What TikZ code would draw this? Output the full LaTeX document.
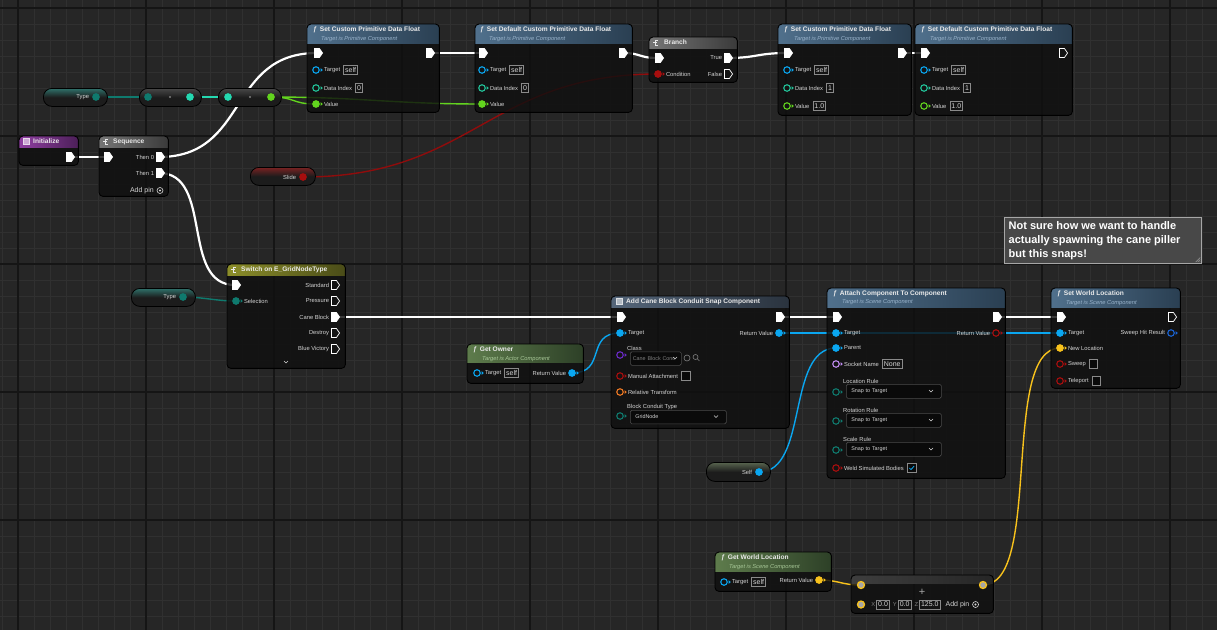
\documentclass[tikz,border=0pt]{standalone}
\usepackage{fontspec}
\setmainfont{Liberation Sans}
\usepackage{xcolor}
\definecolor{bpbg}{HTML}{262626}
\definecolor{gridminor}{HTML}{303030}
\definecolor{gridmajor}{HTML}{151515}
\definecolor{nodebody}{HTML}{0F0F0F}
\definecolor{pinhole}{HTML}{131313}
\definecolor{funcblue}{HTML}{50708C}
\definecolor{funcbluedark}{HTML}{2A3F52}
\definecolor{puregreen}{HTML}{5E7C4C}
\definecolor{puregreendark}{HTML}{2D4027}
\definecolor{flowgray}{HTML}{767676}
\definecolor{flowgraydark}{HTML}{3A3A3A}
\definecolor{switcholive}{HTML}{8C8E2A}
\definecolor{switcholivedark}{HTML}{4A4C18}
\definecolor{eventpurple}{HTML}{9040A2}
\definecolor{eventpurpledark}{HTML}{4C1F58}
\definecolor{compgray}{HTML}{55667A}
\definecolor{compgraydark}{HTML}{2A333E}
\definecolor{addgray}{HTML}{3E3E3E}
\definecolor{addgraydark}{HTML}{262626}
\definecolor{pillteal}{HTML}{2F716A}
\definecolor{pillred}{HTML}{7A2222}
\definecolor{pillself}{HTML}{58644F}
\definecolor{pillgray}{HTML}{484848}
\definecolor{pillbody}{HTML}{1C1C1C}
\definecolor{pinobj}{HTML}{0AA6F0}
\definecolor{pinenum}{HTML}{0F7A6E}
\definecolor{pinbyte}{HTML}{24D8B0}
\definecolor{pinint}{HTML}{22C49A}
\definecolor{pinfloat}{HTML}{62D41E}
\definecolor{pinbool}{HTML}{A80E0E}
\definecolor{pinvec}{HTML}{F8C21C}
\definecolor{pintrans}{HTML}{F07A24}
\definecolor{pinclass}{HTML}{6A2AC8}
\definecolor{pinname}{HTML}{C08CF0}
\definecolor{pinstruct}{HTML}{1A64D6}
\definecolor{titletext}{HTML}{EAEAEA}
\definecolor{subblue}{HTML}{9AB4CC}
\definecolor{subgreen}{HTML}{A8C898}
\definecolor{pintext}{HTML}{D4D4D4}
\definecolor{boxline}{HTML}{8A8A8A}
\definecolor{ddfill}{HTML}{0A0A0A}
\definecolor{ddline}{HTML}{4A4A4A}
\definecolor{commentfill}{HTML}{484848}
\usetikzlibrary{shapes.symbols, positioning, calc}
\pgfdeclarelayer{grid}
\pgfdeclarelayer{wires}
\pgfsetlayers{grid,wires,main}

% node body with shaded header
\newcommand{\bpnode}[8]{%
  \node[bpbody, minimum width=#4pt, minimum height=#5pt] (#1) at (#2,#3) {};
  \begin{scope}
    \clip[rounded corners=4pt] (#1.north west) rectangle (#1.south east);
    \shade[left color=#7, right color=#8] (#1.north west) rectangle ([yshift=-#6pt]#1.north east);
  \end{scope}
  \draw[bpframe] (#1.north west) rectangle (#1.south east);}
% data pin with its little arrow
\newcommand{\dpin}[5]{%
  \node[#1=#5] (#2) at (#3,#4) {};
  \fill[#5] ($(#2.east)+(0.7pt,1.9pt)$) -- ++(2.3pt,-1.9pt) -- ++(-2.3pt,-1.9pt) -- cycle;}

\begin{document}
\begin{tikzpicture}[x=1pt, y=-1pt,
    bpbody/.style={rectangle, anchor=north west, inner sep=0pt, rounded corners=4pt, fill=nodebody, fill opacity=0.82},
    bpframe/.style={rounded corners=4pt, draw=black, line width=0.9pt},
    bptitle/.style={font=\bfseries\fontsize{6.6}{7}\selectfont, text=titletext, inner sep=0pt, anchor=west},
    bpsub/.style={font=\itshape\fontsize{5.7}{6}\selectfont, text=#1, inner sep=0pt, anchor=west},
    execpin/.style={shape=signal, signal to=east, signal pointer angle=110, fill=white, draw=white, line width=0.7pt, minimum width=8pt, minimum height=9pt, inner sep=0pt},
    execopen/.style={execpin, fill=pinhole},
    datapin/.style={circle, draw=#1, fill=#1, line width=1.1pt, minimum size=6.5pt, inner sep=0pt},
    dataopen/.style={datapin=#1, fill=pinhole},
    vecring/.style={circle, draw=pinvec, fill=gray!70, line width=1.3pt, minimum size=7pt, inner sep=0pt},
    pinlabel/.style={font=\fontsize{5.8}{6}\selectfont, text=pintext, inner sep=0pt},
    valbox/.style={draw=boxline, line width=0.6pt, font=\fontsize{7}{7}\selectfont, text=pintext, inner xsep=1.5pt, inner ysep=1pt, minimum height=9pt},
    pill/.style={rounded corners=8.5pt, draw=black, line width=0.8pt, minimum height=18pt, anchor=north west, inner sep=0pt, top color=#1, bottom color=pillbody, middle color=pillbody},
    dropbox/.style={draw=ddline, fill=ddfill, rounded corners=1.5pt, line width=0.6pt, anchor=north west, inner xsep=5pt, inner ysep=0pt, minimum height=13.5pt, text width=#1, align=left, font=\fontsize{5.4}{6}\selectfont, text=pintext},
    checkbox/.style={draw=boxline, fill=ddfill, line width=0.6pt, minimum size=8.5pt, inner sep=0pt},
    notebox/.style={rectangle, anchor=north west, fill=commentfill, draw=gray!70, line width=0.6pt},
    execwire/.style={draw=white, line width=2.2pt},
    datawire/.style={draw=#1, line width=1.4pt},
    chev/.pic={\draw[pintext, line width=0.6pt] (-2pt,1pt) -- (0pt,-1pt) -- (2pt,1pt);},
    addicon/.pic={\draw[pintext, line width=0.6pt] (0,0) circle (3pt); \fill[pintext] (0,0) circle (1.1pt);},
    tick/.pic={\draw[pinobj, line width=0.8pt] (-2.2pt,0pt) -- (-0.6pt,-1.6pt) -- (2.4pt,1.8pt);},
    flowicon/.pic={\draw[titletext, line width=0.6pt] (1.8pt,2.4pt) -- (-1.2pt,2.4pt) -- (-1.2pt,-2.4pt) -- (1.8pt,-2.4pt); \draw[titletext, line width=0.6pt] (-2.8pt,0pt) -- (0.6pt,0pt);},
    squareicon/.pic={\draw[white!80!#1, fill=white!55!#1, line width=0.5pt] (-3pt,-3pt) rectangle (3pt,3pt);}]

\useasboundingbox (0,0) rectangle (1217,630);
\begin{pgfonlayer}{grid}
  \fill[bpbg] (0,0) rectangle (1217,630);
  \foreach \x in {2,18,...,1217} \draw[gridminor, line width=1pt] (\x,0) -- (\x,630);
  \foreach \y in {8,24,...,630} \draw[gridminor, line width=1pt] (0,\y) -- (1217,\y);
  \foreach \x in {18,146,...,1217} \draw[gridmajor, line width=1.3pt] (\x,0) -- (\x,630);
  \foreach \y in {8,136,...,630} \draw[gridmajor, line width=1.3pt] (0,\y) -- (1217,\y);
\end{pgfonlayer}

% ---- Type -> conversions ----
\node[pill=pillteal, minimum width=64pt] (typeA) at (43,88) {};
\node[datapin=pinenum] (typeA-pin) at (96,97) {};
\node[pinlabel, left=3pt of typeA-pin] (typeA-l) {Type};
\node[pill=pillgray, minimum width=62pt] (conv1) at (139,88) {};
\node[datapin=pinenum] (conv1-in) at (148,97) {};
\node[circle, fill=gray, minimum size=2.4pt, inner sep=0pt] (conv1-dot) at (170,97) {};
\node[datapin=pinbyte] (conv1-out) at (190,97) {};
\node[pill=pillgray, minimum width=63pt] (conv2) at (218,88) {};
\node[datapin=pinbyte] (conv2-in) at (228,97) {};
\node[circle, fill=gray, minimum size=2.4pt, inner sep=0pt] (conv2-dot) at (250,97) {};
\node[datapin=pinfloat] (conv2-out) at (271,97) {};

% ---- Set Custom Primitive Data Float ----
\bpnode{setA}{307}{24}{132}{88}{19}{funcblue}{funcbluedark}
\node[bptitle] (setA-t) at (313,29.5) {\textit{ƒ}\hspace{3pt}Set Custom Primitive Data Float};
\node[bpsub=subblue] (setA-s) at (321,39) {Target is Primitive Component};
\node[execpin] (setA-in) at (317,53) {};
\node[execpin] (setA-out) at (429,53) {};
\dpin{dataopen}{setA-target}{316}{70}{pinobj}
\node[pinlabel, right=4pt of setA-target] (setA-target-l) {Target};
\node[valbox, right=3pt of setA-target-l] (setA-target-v) {self};
\dpin{dataopen}{setA-idx}{316}{88}{pinint}
\node[pinlabel, right=4pt of setA-idx] (setA-idx-l) {Data Index};
\node[valbox, right=3pt of setA-idx-l] (setA-idx-v) {0};
\dpin{datapin}{setA-val}{316}{104}{pinfloat}
\node[pinlabel, right=4pt of setA-val] (setA-val-l) {Value};

\bpnode{setB}{475}{24}{157}{88}{19}{funcblue}{funcbluedark}
\node[bptitle] (setB-t) at (480,29.5) {\textit{ƒ}\hspace{3pt}Set Default Custom Primitive Data Float};
\node[bpsub=subblue] (setB-s) at (489,39) {Target is Primitive Component};
\node[execpin] (setB-in) at (482,53) {};
\node[execpin] (setB-out) at (622,53) {};
\dpin{dataopen}{setB-target}{482}{70}{pinobj}
\node[pinlabel, right=4pt of setB-target] (setB-target-l) {Target};
\node[valbox, right=3pt of setB-target-l] (setB-target-v) {self};
\dpin{dataopen}{setB-idx}{482}{88}{pinint}
\node[pinlabel, right=4pt of setB-idx] (setB-idx-l) {Data Index};
\node[valbox, right=3pt of setB-idx-l] (setB-idx-v) {0};
\dpin{datapin}{setB-val}{482}{104}{pinfloat}
\node[pinlabel, right=4pt of setB-val] (setB-val-l) {Value};

% ---- Branch ----
\bpnode{branch}{649}{37}{88}{45}{11}{flowgray}{flowgraydark}
\pic at (656,42.5) {flowicon};
\node[bptitle] (branch-t) at (664,42.5) {Branch};
\node[execpin] (branch-in) at (658,58) {};
\dpin{datapin}{branch-cond}{658}{74}{pinbool}
\node[pinlabel, right=4pt of branch-cond] (branch-cond-l) {Condition};
\node[execpin] (branch-true) at (727,58) {};
\node[pinlabel, left=2pt of branch-true] (branch-true-l) {True};
\node[execopen] (branch-false) at (727,74) {};
\node[pinlabel, left=2pt of branch-false] (branch-false-l) {False};

\bpnode{setC}{778}{24}{133}{91}{19}{funcblue}{funcbluedark}
\node[bptitle] (setC-t) at (784,29.5) {\textit{ƒ}\hspace{3pt}Set Custom Primitive Data Float};
\node[bpsub=subblue] (setC-s) at (794,39) {Target is Primitive Component};
\node[execpin] (setC-in) at (787,53) {};
\node[execpin] (setC-out) at (901,53) {};
\dpin{dataopen}{setC-target}{787}{70}{pinobj}
\node[pinlabel, right=4pt of setC-target] (setC-target-l) {Target};
\node[valbox, right=3pt of setC-target-l] (setC-target-v) {self};
\dpin{dataopen}{setC-idx}{787}{88}{pinint}
\node[pinlabel, right=4pt of setC-idx] (setC-idx-l) {Data Index};
\node[valbox, right=3pt of setC-idx-l] (setC-idx-v) {1};
\dpin{dataopen}{setC-val}{787}{106}{pinfloat}
\node[pinlabel, right=4pt of setC-val] (setC-val-l) {Value};
\node[valbox, right=3pt of setC-val-l] (setC-val-v) {1.0};

\bpnode{setD}{915}{24}{157}{91}{19}{funcblue}{funcbluedark}
\node[bptitle] (setD-t) at (921,29.5) {\textit{ƒ}\hspace{3pt}Set Default Custom Primitive Data Float};
\node[bpsub=subblue] (setD-s) at (930,39) {Target is Primitive Component};
\node[execpin] (setD-in) at (924,53) {};
\node[execopen] (setD-out) at (1062,53) {};
\dpin{dataopen}{setD-target}{924}{70}{pinobj}
\node[pinlabel, right=4pt of setD-target] (setD-target-l) {Target};
\node[valbox, right=3pt of setD-target-l] (setD-target-v) {self};
\dpin{dataopen}{setD-idx}{924}{88}{pinint}
\node[pinlabel, right=4pt of setD-idx] (setD-idx-l) {Data Index};
\node[valbox, right=3pt of setD-idx-l] (setD-idx-v) {1};
\dpin{dataopen}{setD-val}{924}{106}{pinfloat}
\node[pinlabel, right=4pt of setD-val] (setD-val-l) {Value};
\node[valbox, right=3pt of setD-val-l] (setD-val-v) {1.0};

% ---- Initialize / Sequence ----
\bpnode{init}{19}{136}{59}{29}{11}{eventpurple}{eventpurpledark}
\pic at (26.5,141.5) {squareicon=eventpurple};
\node[bptitle] (init-t) at (33,141.5) {Initialize};
\node[execpin] (init-out) at (69,157) {};

\bpnode{seq}{99}{136}{69}{60}{11}{flowgray}{flowgraydark}
\pic at (106,141.5) {flowicon};
\node[bptitle] (seq-t) at (113,141.5) {Sequence};
\node[execpin] (seq-in) at (107,157) {};
\node[execpin] (seq-then0) at (159,157) {};
\node[pinlabel, left=2pt of seq-then0] (seq-then0-l) {Then 0};
\node[execpin] (seq-then1) at (159,173) {};
\node[pinlabel, left=2pt of seq-then1] (seq-then1-l) {Then 1};
\node[pinlabel, font=\fontsize{7}{7}\selectfont, anchor=east] (seq-add) at (154,190.5) {Add pin};
\pic at (160,190.5) {addicon};

\node[pill=pillred, minimum width=65pt] (slide) at (250,167) {};
\node[datapin=pinbool] (slide-pin) at (303,177) {};
\node[pinlabel, left=3pt of slide-pin] (slide-l) {Slide};

% ---- Switch ----
\bpnode{switch}{227}{264}{118}{104}{11}{switcholive}{switcholivedark}
\pic at (234,269.5) {flowicon};
\node[bptitle] (switch-t) at (241,269.5) {Switch on E\_GridNodeType};
\node[execpin] (switch-in) at (235,285) {};
\dpin{datapin}{switch-sel}{236}{301}{pinenum}
\node[pinlabel, right=4pt of switch-sel] (switch-sel-l) {Selection};
\node[execopen] (switch-std) at (334,285) {};
\node[pinlabel, left=2pt of switch-std] (switch-std-l) {Standard};
\node[execopen] (switch-pres) at (334,301) {};
\node[pinlabel, left=2pt of switch-pres] (switch-pres-l) {Pressure};
\node[execpin] (switch-cane) at (334,317) {};
\node[pinlabel, left=2pt of switch-cane] (switch-cane-l) {Cane Block};
\node[execopen] (switch-destroy) at (334,333) {};
\node[pinlabel, left=2pt of switch-destroy] (switch-destroy-l) {Destroy};
\node[execopen] (switch-blue) at (334,349) {};
\node[pinlabel, left=2pt of switch-blue] (switch-blue-l) {Blue Victory};
\pic at (286,362) {chev};

\node[pill=pillteal, minimum width=64pt] (typeB) at (131,288) {};
\node[datapin=pinenum] (typeB-pin) at (183,297) {};
\node[pinlabel, left=3pt of typeB-pin] (typeB-l) {Type};

% ---- Add Cane Block Conduit Snap Component ----
\bpnode{addcane}{611}{296}{178}{132}{11}{compgray}{compgraydark}
\pic at (619,301.5) {squareicon=compgray};
\node[bptitle] (addcane-t) at (626,301.5) {Add Cane Block Conduit Snap Component};
\node[execpin] (addcane-in) at (620,317) {};
\node[execpin] (addcane-out) at (779,317) {};
\dpin{datapin}{addcane-target}{620}{333}{pinobj}
\node[pinlabel, right=4pt of addcane-target] (addcane-target-l) {Target};
\dpin{datapin}{addcane-rv}{779}{333}{pinobj}
\node[pinlabel, left=2pt of addcane-rv] (addcane-rv-l) {Return Value};
\dpin{dataopen}{addcane-class}{620}{355}{pinclass}
\node[pinlabel, anchor=west] (addcane-class-l) at (627,348) {Class};
\node[dropbox=46pt, inner xsep=2.5pt, text=gray] (addcane-class-d) at (630,351.5) {Cane Block Conc};
\pic at (675,358) {chev};
\node[circle, draw=gray, line width=0.6pt, minimum size=6pt, inner sep=0pt] (addcane-use) at (687,358) {};
\node[circle, draw=gray, line width=0.6pt, minimum size=5pt, inner sep=0pt] (addcane-find) at (695.5,357) {};
\draw[gray, line width=0.7pt] (addcane-find.south east) -- ++(2pt,-2pt);
\dpin{dataopen}{addcane-manual}{620}{376}{pinbool}
\node[pinlabel, right=4pt of addcane-manual] (addcane-manual-l) {Manual Attachment};
\node[checkbox, right=3pt of addcane-manual-l] (addcane-manual-c) {};
\dpin{dataopen}{addcane-rel}{620}{392}{pintrans}
\node[pinlabel, right=4pt of addcane-rel] (addcane-rel-l) {Relative Transform};
\node[pinlabel, anchor=west] (addcane-type-l) at (627,407) {Block Conduit Type};
\dpin{dataopen}{addcane-type}{620}{416}{pinenum}
\node[dropbox=86pt] (addcane-type-d) at (630,410) {GridNode};
\pic at (716,416.5) {chev};

% ---- Get Owner / Self ----
\bpnode{getowner}{467}{344}{116}{39}{18}{puregreen}{puregreendark}
\node[bptitle] (getowner-t) at (473,350) {\textit{ƒ}\hspace{3pt}Get Owner};
\node[bpsub=subgreen] (getowner-s) at (482,359) {Target is Actor Component};
\dpin{dataopen}{getowner-target}{477}{373}{pinobj}
\node[pinlabel, right=4pt of getowner-target] (getowner-target-l) {Target};
\node[valbox, right=3pt of getowner-target-l] (getowner-target-v) {self};
\dpin{datapin}{getowner-rv}{572}{373}{pinobj}
\node[pinlabel, left=2pt of getowner-rv] (getowner-rv-l) {Return Value};

\node[pill=pillself, minimum width=64pt, minimum height=19pt] (selfvar) at (706,462) {};
\node[datapin=pinobj] (selfvar-pin) at (759,472) {};
\node[pinlabel, left=3pt of selfvar-pin] (selfvar-l) {Self};

% ---- Attach Component To Component ----
\bpnode{attach}{827}{288}{178}{190}{19}{funcblue}{funcbluedark}
\node[bptitle] (attach-t) at (833,293.5) {\textit{ƒ}\hspace{3pt}Attach Component To Component};
\node[bpsub=subblue] (attach-s) at (842,302.5) {Target is Scene Component};
\node[execpin] (attach-in) at (836,317) {};
\node[execpin] (attach-out) at (996,317) {};
\dpin{datapin}{attach-target}{836}{333}{pinobj}
\node[pinlabel, right=4pt of attach-target] (attach-target-l) {Target};
\dpin{dataopen}{attach-rv}{996}{333}{pinbool}
\node[pinlabel, left=2pt of attach-rv] (attach-rv-l) {Return Value};
\dpin{datapin}{attach-parent}{836}{348}{pinobj}
\node[pinlabel, right=4pt of attach-parent] (attach-parent-l) {Parent};
\dpin{dataopen}{attach-socket}{836}{364}{pinname}
\node[pinlabel, right=4pt of attach-socket] (attach-socket-l) {Socket Name};
\node[valbox, right=3pt of attach-socket-l] (attach-socket-v) {None};
\node[pinlabel, anchor=west] (attach-loc-l) at (843,381) {Location Rule};
\dpin{dataopen}{attach-loc}{836}{392}{pinenum}
\node[dropbox=85pt, minimum height=14pt] (attach-loc-d) at (846,384) {Snap to Target};
\pic at (931,391) {chev};
\node[pinlabel, anchor=west] (attach-rot-l) at (843,410) {Rotation Rule};
\dpin{dataopen}{attach-rot}{836}{421}{pinenum}
\node[dropbox=85pt, minimum height=14pt] (attach-rot-d) at (846,413) {Snap to Target};
\pic at (931,420) {chev};
\node[pinlabel, anchor=west] (attach-scale-l) at (843,439) {Scale Rule};
\dpin{dataopen}{attach-scale}{836}{450}{pinenum}
\node[dropbox=85pt, minimum height=14pt] (attach-scale-d) at (846,442) {Snap to Target};
\pic at (931,449) {chev};
\dpin{dataopen}{attach-weld}{836}{468}{pinbool}
\node[pinlabel, right=4pt of attach-weld] (attach-weld-l) {Weld Simulated Bodies};
\node[checkbox, right=3pt of attach-weld-l] (attach-weld-c) {};
\pic at (attach-weld-c) {tick};

% ---- Set World Location + comment ----
\bpnode{setworld}{1051}{288}{129}{100}{19}{funcblue}{funcbluedark}
\node[bptitle] (setworld-t) at (1057,293.5) {\textit{ƒ}\hspace{3pt}Set World Location};
\node[bpsub=subblue] (setworld-s) at (1066,303) {Target is Scene Component};
\node[execpin] (setworld-in) at (1060,317) {};
\node[execopen] (setworld-out) at (1171,317) {};
\dpin{datapin}{setworld-target}{1060}{333}{pinobj}
\node[pinlabel, right=4pt of setworld-target] (setworld-target-l) {Target};
\dpin{dataopen}{setworld-hit}{1171}{333}{pinstruct}
\node[pinlabel, left=2pt of setworld-hit] (setworld-hit-l) {Sweep Hit Result};
\dpin{datapin}{setworld-newloc}{1060}{348}{pinvec}
\node[pinlabel, right=4pt of setworld-newloc] (setworld-newloc-l) {New Location};
\dpin{dataopen}{setworld-sweep}{1060}{364}{pinbool}
\node[pinlabel, right=4pt of setworld-sweep] (setworld-sweep-l) {Sweep};
\node[checkbox, right=3pt of setworld-sweep-l] (setworld-sweep-c) {};
\dpin{dataopen}{setworld-tele}{1060}{381}{pinbool}
\node[pinlabel, right=4pt of setworld-tele] (setworld-tele-l) {Teleport};
\node[checkbox, right=3pt of setworld-tele-l] (setworld-tele-c) {};

\node[notebox, minimum width=197pt, minimum height=46pt] (note) at (1004,217) {};
\node[anchor=north west, align=left, inner sep=0pt, font=\bfseries\fontsize{11}{14}\selectfont, text=white] (note-t) at (1008.5,221.5) {Not sure how we want to handle\\actually spawning the cane piller\\but this snaps!};
\foreach \d in {2,4,6} \draw[gray!80, line width=0.5pt] ($(note.south east)+(-\d pt,1.5pt)$) -- ($(note.south east)+(-1.5pt,\d pt)$);

% ---- Get World Location -> add ----
\bpnode{getworld}{715}{552}{116}{39}{19}{puregreen}{puregreendark}
\node[bptitle] (getworld-t) at (721,557.5) {\textit{ƒ}\hspace{3pt}Get World Location};
\node[bpsub=subgreen] (getworld-s) at (729,567) {Target is Scene Component};
\dpin{dataopen}{getworld-target}{724}{582}{pinobj}
\node[pinlabel, right=4pt of getworld-target] (getworld-target-l) {Target};
\node[valbox, right=3pt of getworld-target-l] (getworld-target-v) {self};
\dpin{datapin}{getworld-rv}{819}{580}{pinvec}
\node[pinlabel, left=2pt of getworld-rv] (getworld-rv-l) {Return Value};

\bpnode{addvec}{851}{575}{142}{38}{8}{addgray}{addgraydark}
\node[vecring] (addvec-in1) at (861,585) {};
\node[vecring] (addvec-in2) at (861,604.5) {};
\node[vecring] (addvec-out) at (983,585) {};
\node[font=\fontsize{11}{11}\selectfont, text=gray!70, inner sep=0pt] (addvec-op) at (922,592) {+};
\node[pinlabel, text=gray, right=6pt of addvec-in2] (addvec-xl) {X};
\node[valbox, right=1pt of addvec-xl] (addvec-x) {0.0};
\node[pinlabel, text=gray, right=3pt of addvec-x] (addvec-yl) {Y};
\node[valbox, right=1pt of addvec-yl] (addvec-y) {0.0};
\node[pinlabel, text=gray, right=3pt of addvec-y] (addvec-zl) {Z};
\node[valbox, right=1pt of addvec-zl] (addvec-z) {125.0};
\node[pinlabel, font=\fontsize{7}{7}\selectfont, right=5pt of addvec-z] (addvec-add) {Add pin};
\pic at ($(addvec-add.east)+(6pt,0pt)$) {addicon};

% ---- wires ----
\begin{pgfonlayer}{wires}
  \draw[datawire=pinenum] (typeA-pin.center) -- (conv1-in.center);
  \draw[datawire=pinbyte] (conv1-out.center) -- (conv2-in.center);
  \draw[datawire=pinfloat] (conv2-out.center) .. controls +(25,0) and +(-25,0) .. (setA-val.center);
  \draw[datawire=pinfloat] (conv2-out.center) .. controls +(90,0) and +(-90,0) .. (setB-val.center);
  \draw[execwire] (init-out.center) -- (seq-in.center);
  \draw[execwire] (seq-then0.center) .. controls +(90,0) and +(-90,0) .. (setA-in.center);
  \draw[execwire] (seq-then1.center) .. controls +(55,0) and +(-55,0) .. (switch-in.center);
  \draw[execwire] (setA-out.center) -- (setB-in.center);
  \draw[execwire] (setB-out.center) .. controls +(20,0) and +(-20,0) .. (branch-in.center);
  \draw[execwire] (branch-true.center) .. controls +(30,0) and +(-30,0) .. (setC-in.center);
  \draw[execwire] (setC-out.center) -- (setD-in.center);
  \draw[datawire=pinbool!85!black] (slide-pin.center) .. controls +(170,0) and +(-170,0) .. (branch-cond.center);
  \draw[datawire=pinenum] (typeB-pin.center) .. controls +(20,0) and +(-20,0) .. (switch-sel.center);
  \draw[execwire] (switch-cane.center) -- (addcane-in.center);
  \draw[datawire=pinobj] (getowner-rv.center) .. controls +(35,0) and +(-35,0) .. (addcane-target.center);
  \draw[execwire] (addcane-out.center) -- (attach-in.center);
  \draw[execwire] (attach-out.center) -- (setworld-in.center);
  \draw[datawire=pinobj] (addcane-rv.center) -- (attach-target.center);
  \draw[datawire=pinobj] (addcane-rv.center) -- (setworld-target.center);
  \draw[datawire=pinobj] (selfvar-pin.center) .. controls +(50,0) and +(-50,0) .. (attach-parent.center);
  \draw[datawire=pinvec] (getworld-rv.center) .. controls +(20,0) and +(-20,0) .. (addvec-in1.center);
  \draw[datawire=pinvec] (addvec-out.center) .. controls +(60,0) and +(-60,0) .. (setworld-newloc.center);
\end{pgfonlayer}
\end{tikzpicture}
\end{document}
